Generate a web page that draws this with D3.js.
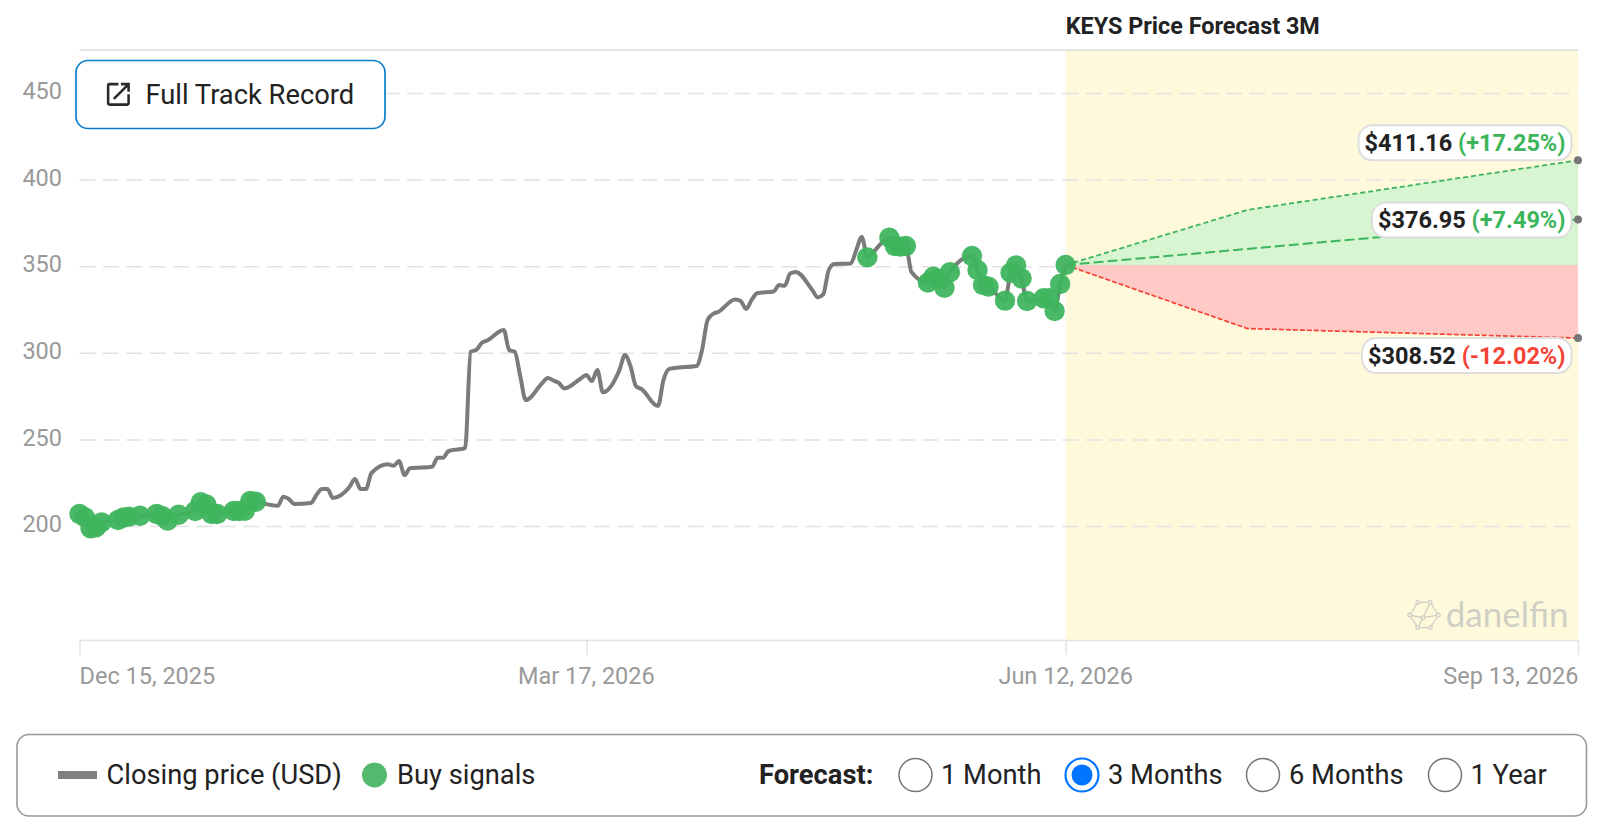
<!DOCTYPE html>
<html>
<head>
<meta charset="utf-8">
<script src="https://cdn.jsdelivr.net/npm/d3@7"></script>
<style>
  html, body { margin: 0; padding: 0; background: #fff; }
  svg { display: block; font-family: Roboto, sans-serif; }
</style>
</head>
<body>
<svg id="chart" width="1600" height="834"></svg>
<script>
// Trading sessions, as days counted from the first session on the axis
const startDate = new Date(2025, 11, 15);
const sessionDays = [
  0,1,2,3,4,7,8,9,11,14,15,16,18,21,22,23,24,25,28,29,30,31,32,
  36,37,38,39,42,43,44,45,46,49,50,51,52,53,
  56,57,58,59,60,64,65,66,67,70,71,72,73,74,
  77,78,79,80,81,84,85,86,87,88,91,92,93,94,95,
  98,99,100,101,102,105,106,107,108,112,113,114,115,116,
  119,120,121,122,123,126,127,128,129,130,133,134,135,136,137,
  140,141,142,143,144,147,148,149,150,151,154,155,156,157,158,
  162,163,164,165,168,169,170,171,172,175,176,177,178,179
];
const closingPrices = [
  206.9,205,198.7,199.2,202.1,203.5,205,205.4,205.9,206.9,205.8,203.1,206.5,208.7,213.7,212.5,206.9,206.9,208.7,208.7,208.8,214.4,214,
  211.7,216.9,215.6,212.7,213.3,217.9,221.4,221.4,216.2,222.5,227.1,221.4,221.4,230.6,
  235.6,234.8,237.5,229.4,233.3,234.2,239.4,239.4,243.3,245,300.6,301.6,305.7,307.1,
  313.2,301.6,300.6,286.6,272.7,282.6,285.5,284,282.6,279.5,285.2,287.2,283.7,290,277.2,
  290,298.7,292.4,280.8,279.1,269.3,284.3,290.6,291.2,292.4,301.6,318.9,322.4,323.7,
  330.8,329.9,325.3,330.5,334.4,335.4,339.1,338.7,345.8,346.7,336.3,332,333.7,347.8,351.3,
  351.6,359.4,366.9,355.1,357.9,366.5,361.7,361.3,361.7,346.7,340.5,343.9,342.6,337.6,346.5,
  355.9,347.8,339.1,338.2,330.1,346.2,350.5,343,329.9,331.5,331.5,324.1,339.7,350.67
];
const buySignalDays = [
  0,1,2,3,4,7,8,9,11,14,15,16,18,21,22,23,24,25,28,29,30,31,32,
  143,147,148,149,150,154,155,156,157,158,162,163,164,165,168,169,170,171,172,175,176,177,178,179
];

// Three-month forecast paths
const forecastDays = [179, 212, 272];
const forecastHigh = [350.67, 382.5, 411.16];
const forecastMid = [350.67, 360, 376.95];
const forecastLow = [350.67, 314, 308.52];
const forecastChange = ["+17.25%", "+7.49%", "-12.02%"];

const yTicks = [200, 250, 300, 350, 400, 450];
const xTickDays = [0, 92, 179, 272];
const forecastOptions = ["1 Month", "3 Months", "6 Months", "1 Year"];

const colors = {
  line: "#7b7b7b", buy: "#3fb55e", up: "#3cb55c", down: "#f44336",
  upFill: "#d7f5d0", downFill: "#ffc9c6", band: "#fff9dc",
  grid: "#e2e2e2", tick: "#999", ink: "#222"
};

const svg = d3.select("#chart");
const dayDate = d => d3.timeDay.offset(startDate, d);
const x = d3.scaleTime().domain([dayDate(0), dayDate(272)]).range([79.5, 1578]);
const y = d3.scaleLinear().domain([134.18, 474.83]).range([640, 50]);

// Forecast band
svg.append("rect")
  .attr("x", x(dayDate(179))).attr("y", y.range()[1])
  .attr("width", x(dayDate(272)) - x(dayDate(179)))
  .attr("height", y.range()[0] - y.range()[1])
  .attr("fill", colors.band);

// Frame line along the top
svg.append("line")
  .attr("x1", 79.5).attr("x2", 1578)
  .attr("y1", y.range()[1]).attr("y2", y.range()[1])
  .attr("stroke", "#dcdcdc").attr("stroke-width", 1.5);

// Value axis with dashed gridlines
const yAxis = d3.axisLeft(y).tickValues(yTicks).tickSize(-(1578 - 79.5)).tickPadding(17.5);
const yG = svg.append("g").attr("transform", "translate(79.5,0)").call(yAxis);
yG.select(".domain").remove();
yG.selectAll("line").attr("stroke", colors.grid).attr("stroke-width", 1.5).attr("stroke-dasharray", "16,7.4");
yG.selectAll("text")
  .attr("fill", colors.tick).attr("dy", "0.24em")
  .style("font-family", "Roboto, sans-serif").style("font-size", "23.5px");

// Time axis
const xAxis = d3.axisBottom(x).tickValues(xTickDays.map(dayDate))
  .tickFormat(d3.timeFormat("%b %d, %Y")).tickSize(15).tickSizeOuter(0).tickPadding(12.5);
const xG = svg.append("g").attr("transform", `translate(0,${y.range()[0]})`).call(xAxis);
xG.select(".domain").attr("stroke", colors.grid).attr("stroke-width", 1.5);
xG.selectAll("line").attr("stroke", colors.grid).attr("stroke-width", 1.5);
xG.selectAll("text")
  .attr("fill", colors.tick)
  .attr("text-anchor", (d, i) => i === 0 ? "start" : i === xTickDays.length - 1 ? "end" : "middle")
  .attr("dx", (d, i) => i === 0 ? -0.5 : i === xTickDays.length - 1 ? 0 : -0.5)
  .style("font-family", "Roboto, sans-serif").style("font-size", "23.5px");

// Forecast shaded areas, above and below the last close
const baseClose = forecastHigh[0];
const fx = d => x(dayDate(d));
const area = d3.area().x((d, i) => fx(forecastDays[i])).y0(y(baseClose)).y1(d => y(d));
svg.append("path").datum(forecastHigh).attr("d", area).attr("fill", colors.upFill);
svg.append("path").datum(forecastLow).attr("d", area).attr("fill", colors.downFill);

// Forecast paths
const fLine = d3.line().x((d, i) => fx(forecastDays[i])).y(d => y(d));
svg.append("path").datum(forecastHigh).attr("d", fLine).attr("fill", "none")
  .attr("stroke", colors.up).attr("stroke-width", 1.8).attr("stroke-dasharray", "5,3");
svg.append("path").datum(forecastMid).attr("d", fLine).attr("fill", "none")
  .attr("stroke", colors.up).attr("stroke-width", 2).attr("stroke-dasharray", "10,4");
svg.append("path").datum(forecastLow).attr("d", fLine).attr("fill", "none")
  .attr("stroke", colors.down).attr("stroke-width", 1.7).attr("stroke-dasharray", "5,2");

// Closing price
const closeLine = d3.line().curve(d3.curveMonotoneX)
  .x((d, i) => x(dayDate(sessionDays[i]))).y(d => y(d));
svg.append("path").datum(closingPrices).attr("d", closeLine).attr("fill", "none")
  .attr("stroke", colors.line).attr("stroke-width", 4).attr("stroke-linejoin", "round");

// Buy signals sit on the closing price of their session
svg.append("g").selectAll("circle").data(buySignalDays).join("circle")
  .attr("cx", d => x(dayDate(d)))
  .attr("cy", d => y(closingPrices[sessionDays.indexOf(d)]))
  .attr("r", 10.2)
  .attr("fill", colors.buy).attr("fill-opacity", 0.94);

// Endpoints and their value labels
const endings = [
  { value: forecastHigh[2], change: forecastChange[0], color: colors.up, dy: -17.5 },
  { value: forecastMid[2], change: forecastChange[1], color: colors.up, dy: 0.5 },
  { value: forecastLow[2], change: forecastChange[2], color: colors.down, dy: 17.5 }
];
endings.forEach(e => {
  svg.append("circle").attr("cx", x(dayDate(272))).attr("cy", y(e.value)).attr("r", 4).attr("fill", "#777");
  const g = svg.append("g");
  const pill = g.append("rect");
  const t = g.append("text")
    .attr("x", 1565.5).attr("y", y(e.value) + e.dy).attr("dy", "0.35em")
    .attr("text-anchor", "end")
    .style("font-size", "23.5px").style("font-weight", 700);
  t.append("tspan").attr("fill", colors.ink).text(`$${e.value.toFixed(2)} `);
  t.append("tspan").attr("fill", e.color).text(`(${e.change})`);
  const w = t.node().getComputedTextLength();
  pill.attr("x", 1565.5 - w - 6).attr("y", y(e.value) + e.dy - 17.5)
    .attr("width", w + 12).attr("height", 35).attr("rx", 14)
    .attr("fill", "#fff").attr("stroke", "#dedede").attr("stroke-width", 2);
});

// Forecast heading
svg.append("text").attr("x", x(dayDate(179))).attr("y", 26).attr("dy", "0.35em")
  .attr("fill", colors.ink).style("font-size", "23.4px").style("font-weight", 700)
  .text("KEYS Price Forecast 3M");

// Link button
svg.append("rect").attr("x", 76).attr("y", 60.5).attr("width", 309).attr("height", 68).attr("rx", 12)
  .attr("fill", "#fff").attr("stroke", "#0a7ec9").attr("stroke-width", 1.7);
svg.append("path").attr("transform", "translate(103,79) scale(1.28)").attr("fill", "#2a2a2a")
  .attr("d", "M19 19H5V5h7V3H5c-1.11 0-2 .9-2 2v14c0 1.1.89 2 2 2h14c1.1 0 2-.9 2-2v-7h-2v7zM14 3v2h3.59l-9.83 9.83 1.41 1.41L19 6.41V10h2V3h-7z");
svg.append("text").attr("x", 145.5).attr("y", 94).attr("dy", "0.35em")
  .attr("fill", colors.ink).style("font-size", "27.3px").text("Full Track Record");

// Watermark
const mark = svg.append("g").attr("transform", "translate(1424,615) scale(0.9)")
  .attr("stroke", "#cfcfc6").attr("stroke-width", 1.5).attr("fill", "none");
mark.append("path").attr("d", "M-16 0L-7 -14H7L16 0L7 14H-7ZM-16 0L-1 3L7 -14M-1 3L-7 14M-1 3L16 0");
[[-16,0],[-7,-14],[7,-14],[16,0],[7,14],[-7,14],[-1,3]].forEach(p =>
  mark.append("circle").attr("cx", p[0]).attr("cy", p[1]).attr("r", 2).attr("fill", colors.band));
svg.append("text").attr("x", 1568.5).attr("y", 615).attr("dy", "0.35em").attr("text-anchor", "end")
  .attr("fill", "#cfcfc6").style("font-family", "Lato, sans-serif").style("font-size", "35px")
  .text("danelfin");

// Legend panel
svg.append("rect").attr("x", 17).attr("y", 734.5).attr("width", 1569.5).attr("height", 81.5).attr("rx", 12)
  .attr("fill", "#fff").attr("stroke", "#999").attr("stroke-width", 1.6);
const legendY = 775;
const legendText = (tx, label, weight) => svg.append("text")
  .attr("x", tx).attr("y", legendY).attr("dy", "0.33em")
  .attr("fill", colors.ink).style("font-size", "27.3px").style("font-weight", weight || 400).text(label);
svg.append("rect").attr("x", 58).attr("y", legendY - 4).attr("width", 39).attr("height", 8).attr("fill", "#808080");
legendText(106.5, "Closing price (USD)");
svg.append("circle").attr("cx", 374.5).attr("cy", legendY).attr("r", 12.5).attr("fill", "#52b96d");
legendText(397, "Buy signals");
legendText(759, "Forecast:", 700);

const radioX = [915.5, 1082, 1263, 1445];
const radioLabelX = [941, 1108, 1289, 1470.5];
forecastOptions.forEach((opt, i) => {
  const on = opt === "3 Months";
  svg.append("circle").attr("cx", radioX[i]).attr("cy", legendY).attr("r", 16.5)
    .attr("fill", "#fff").attr("stroke", on ? "#0075ff" : "#767676").attr("stroke-width", on ? 2.2 : 1.5);
  if (on) svg.append("circle").attr("cx", radioX[i]).attr("cy", legendY).attr("r", 10.5).attr("fill", "#0075ff");
  legendText(radioLabelX[i], opt);
});
</script>
</body>
</html>
